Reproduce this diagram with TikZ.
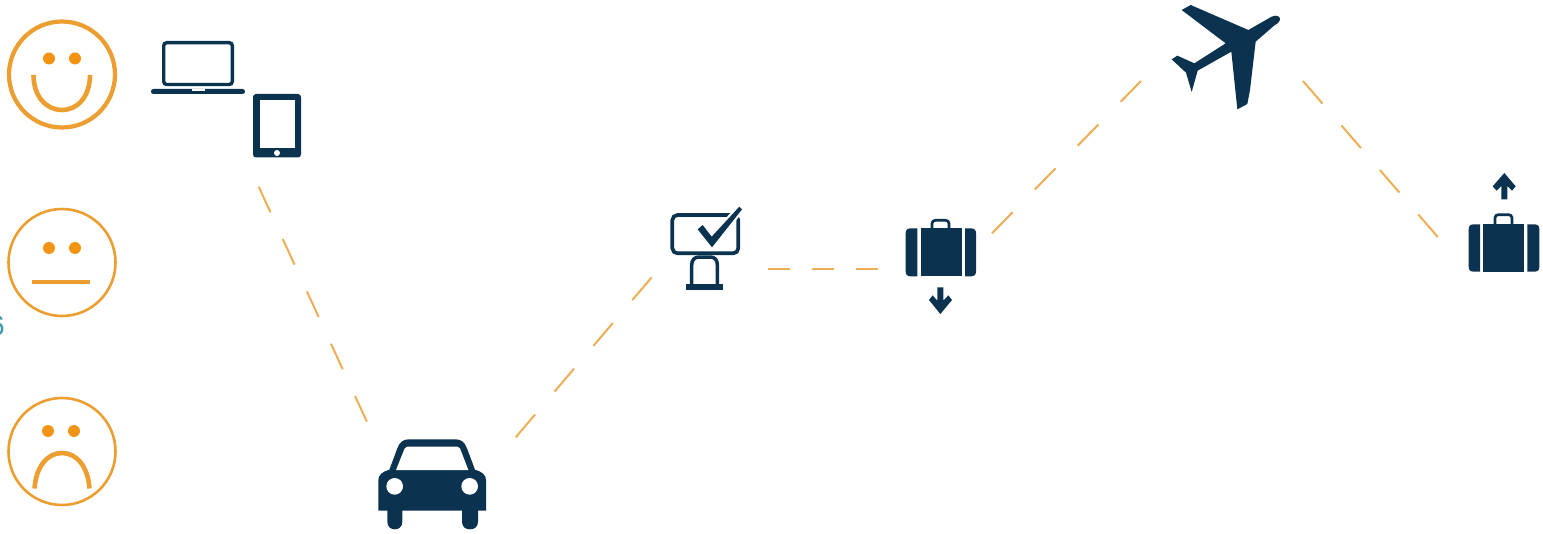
\documentclass[tikz,border=0pt]{standalone}
\usepackage{fontspec}
\setmainfont{Liberation Sans}
\definecolor{navy}{HTML}{0B3350}
\definecolor{faceorange}{HTML}{EC9E30}
\definecolor{eyeorange}{HTML}{F29312}
\definecolor{dashorange}{HTML}{EDAE55}
\definecolor{teal6}{HTML}{3F97AC}
\tikzset{
  facering/.style={draw=faceorange,fill=none},
  faceeye/.style={fill=eyeorange,draw=none},
  facemouth/.style={draw=faceorange,line width=2.3pt,fill=none},
  dashlink/.style={draw=dashorange,line width=1pt},
  icon/.style={fill=navy,draw=none},
  iconline/.style={draw=navy,fill=none},
  z3/.style={x=0.1666667pt,y=-0.1666667pt}
}
\begin{document}
\begin{tikzpicture}[x=0.5pt,y=-0.5pt]
\useasboundingbox (0,0) rectangle (1543,534);
\fill[white] (0,0) rectangle (1543,534);
\clip (0,0) rectangle (1543,534);

% cropped label at the left edge
\node[text=teal6,font=\fontsize{14pt}{15pt}\selectfont,anchor=center,inner sep=0pt] (six) at (-3,326) {6};

% faces
\draw[facering,line width=2.1pt] (62,74.5) circle[radius=53];
\fill[faceeye] (49,58.5) circle[radius=6];
\fill[faceeye] (75,58.5) circle[radius=6];
\draw[facemouth] (33.5,75) .. controls (33.5,96) and (46,110) .. (62,110) .. controls (78,110) and (90,96) .. (90,75);

\draw[facering,line width=1.3pt] (62,262.5) circle[radius=53.5];
\fill[faceeye] (49,248) circle[radius=6];
\fill[faceeye] (75,248) circle[radius=6];
\draw[facemouth] (32,282) -- (89.5,282);

\draw[facering,line width=1.3pt] (62,451.5) circle[radius=53.5];
\fill[faceeye] (48,431) circle[radius=6];
\fill[faceeye] (74,431) circle[radius=6];
\draw[facemouth] (34.5,488.5) .. controls (36,467) and (47,453) .. (62,453) .. controls (77,453) and (88,467) .. (89.5,488.5);

% laptop
\draw[iconline,line width=1.7pt,rounded corners=1.5pt] (163.7,42.7) rectangle (232.3,84.5);
\fill[icon,rounded corners=1.2pt] (151,89) rectangle (245,94);
\fill[white] (191.5,89) rectangle (204.5,91);

% tablet
\fill[icon,rounded corners=1.5pt] (253,94) rectangle (301,157.5);
\fill[white] (259.5,100.5) rectangle (295,148.5);
\fill[white] (277,153) circle[radius=3];

% car
\begin{scope}[shift={(360,420)},z3]
  \fill[icon] (84,160) -- (112,85) .. controls (119,66) and (130,58) .. (146,58) -- (287,58) .. controls (303,58) and (314,66) .. (321,85) -- (349,160) -- cycle;
  \fill[icon] (55,272) -- (55,180) .. controls (55,165) and (68,155) .. (85,150) -- (348,150) .. controls (365,155) and (378,165) .. (378,180) -- (378,272) -- cycle;
  \fill[icon] (82,260) -- (82,305) .. controls (82,320) and (92,328) .. (104.5,328) .. controls (117,328) and (127,320) .. (127,305) -- (127,260) -- cycle;
  \fill[icon] (306,260) -- (306,305) .. controls (306,320) and (316,328) .. (330,328) .. controls (344,328) and (354,320) .. (354,305) -- (354,260) -- cycle;
  \fill[white] (108,150) -- (134,85) .. controls (136,81) and (138,80) .. (142,80) -- (292,80) .. controls (296,80) and (298,81) .. (300,85) -- (325,150) -- cycle;
  \fill[white] (104,199) circle[radius=25];
  \fill[white] (329,199) circle[radius=25];
\end{scope}

% monitor with check mark
\begin{scope}[shift={(650,190)},z3]
  \draw[iconline,line width=1.85pt,rounded corners=2.6pt] (67,75) rectangle (265,190);
  \fill[white,draw=white,line width=2.2pt] (143,118) -- (158,105) -- (185,140) -- (268,50) -- (276,58) -- (186,172) -- cycle;
  \fill[icon] (143,118) -- (158,105) -- (185,140) -- (268,50) -- (276,58) -- (186,172) -- cycle;
  \draw[iconline,line width=1.75pt] (125,285) -- (125,226) .. controls (125,210) and (133,201) .. (148,201) -- (180,201) .. controls (195,201) and (202,210) .. (202,226) -- (202,285);
  \fill[icon] (108,282) rectangle (220,301);
\end{scope}

% suitcase with down arrow
\begin{scope}[shift={(650,190)},z3]
  \draw[iconline,line width=1.35pt,rounded corners=1.6pt] (846,118) -- (846,91) -- (897,91) -- (897,118);
  \fill[icon] (802,115) -- (782,115) .. controls (772,115) and (767,120) .. (767,130) -- (767,244) .. controls (767,254) and (772,259) .. (782,259) -- (802,259) -- cycle;
  \fill[icon] (812,115) rectangle (935,259);
  \fill[icon] (945,115) -- (963,115) .. controls (973,115) and (978,120) .. (978,130) -- (978,244) .. controls (978,254) and (973,259) .. (963,259) -- (945,259) -- cycle;
  \fill[icon] (862,292) -- (880,292) -- (880,332) -- (895,316) -- (906,330) -- (871,372) -- (837,330) -- (848,316) -- (862,332) -- cycle;
\end{scope}

% plane
\begin{scope}[shift={(1160,0)},z3]
  \fill[icon] (65,30) -- (92,15) -- (265,90) -- (335,50) .. controls (350,43) and (362,50) .. (360,60) .. controls (358,68) and (350,72) .. (342,77) -- (287,125) -- (270,270) -- (262,312) -- (232,328) -- (214,155) -- (113,212) -- (95,276) -- (78,218) -- (35,178) -- (52,167) -- (103,190) -- (197,130) -- cycle;
\end{scope}

% suitcase with up arrow
\begin{scope}[shift={(1450,165)},z3]
  \draw[iconline,line width=1.35pt,rounded corners=1.6pt] (135,181) -- (135,149) -- (186,149) -- (186,181);
  \fill[icon] (90,178) -- (71,178) .. controls (61,178) and (56,183) .. (56,193) -- (56,305) .. controls (56,315) and (61,320) .. (71,320) -- (90,320) -- cycle;
  \fill[icon] (100,178) rectangle (222,320);
  \fill[icon] (232,178) -- (253,178) .. controls (263,178) and (268,183) .. (268,193) -- (268,305) .. controls (268,315) and (263,320) .. (253,320) -- (232,320) -- cycle;
  \fill[icon] (154,103) -- (172,103) -- (172,63) -- (186,77) -- (197,64) -- (163,24) -- (128,64) -- (140,77) -- (154,63) -- cycle;
\end{scope}

% connectors
\coordinate (a1) at (258.7,186.7);
\coordinate (a2) at (367,422);
\coordinate (b1) at (515.7,437.3);
\coordinate (b2) at (651.7,277.3);
\coordinate (c1) at (768,269);
\coordinate (c2) at (878,269);
\coordinate (d1) at (992,233.3);
\coordinate (d2) at (1141,81);
\coordinate (e1) at (1303,81);
\coordinate (e2) at (1438,237.3);
\draw[dashlink,dash pattern=on 14.1pt off 14.7pt] (a1) -- (a2);
\draw[dashlink,dash pattern=on 15pt off 15pt] (b1) -- (b2);
\draw[dashlink,dash pattern=on 11.1pt off 11pt] (c1) -- (c2);
\draw[dashlink,dash pattern=on 14.75pt off 15.9pt] (d1) -- (d2);
\draw[dashlink,dash pattern=on 14.9pt off 14.5pt] (e1) -- (e2);
\end{tikzpicture}
\end{document}
